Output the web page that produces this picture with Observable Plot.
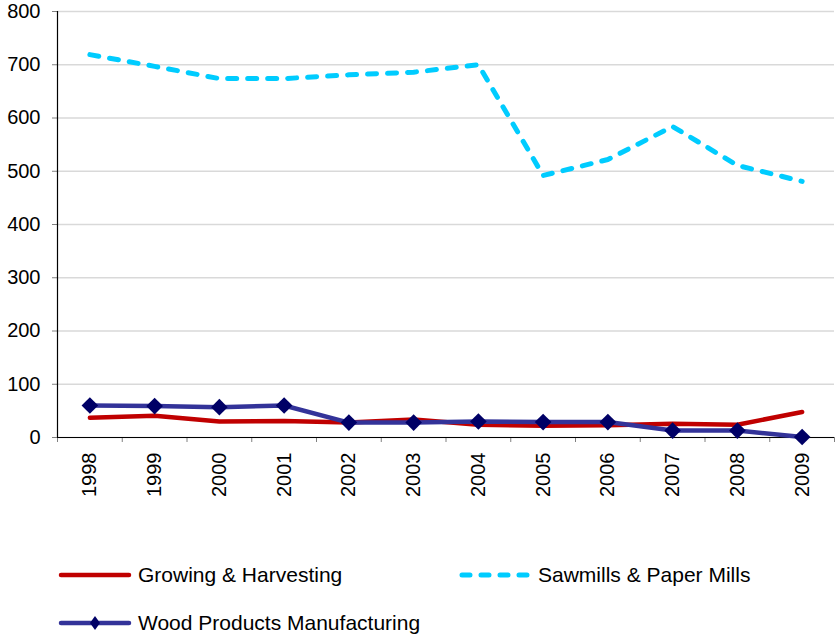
<!DOCTYPE html>
<html>
<head>
<meta charset="utf-8">
<script src="https://cdn.jsdelivr.net/npm/d3@7"></script>
<script src="https://cdn.jsdelivr.net/npm/@observablehq/plot@0.6"></script>
<style>
  html, body { margin: 0; padding: 0; background: #fff; }
  body { width: 835px; height: 635px; position: relative; overflow: hidden; font-family: "Liberation Sans", Arial, sans-serif; }
  #chart { position: absolute; left: 0; top: 0; }
  .leg { position: absolute; display: flex; align-items: center; font-size: 21px; color: #000; white-space: nowrap; }
  .leg svg { margin-right: 6px; }
</style>
</head>
<body>
<div id="chart"></div>
<div class="leg" style="left:58px; top:561px;">
  <svg width="74" height="28"><line x1="3" x2="71" y1="14" y2="14" stroke="#C00000" stroke-width="4.5" stroke-linecap="round"/></svg>
  <span>Growing &amp; Harvesting</span>
</div>
<div class="leg" style="left:458px; top:561px;">
  <svg width="74" height="28"><line x1="4" x2="71" y1="14" y2="14" stroke="#00CCFF" stroke-width="5" stroke-linecap="round" stroke-dasharray="8,11"/></svg>
  <span>Sawmills &amp; Paper Mills</span>
</div>
<div class="leg" style="left:58px; top:609px;">
  <svg width="74" height="28"><line x1="3" x2="71" y1="14" y2="14" stroke="#333399" stroke-width="4.5" stroke-linecap="round"/><path d="M37,7 L42,14 L37,21 L32,14 Z" fill="#000066"/></svg>
  <span>Wood Products Manufacturing</span>
</div>
<script>
const years = [1998, 1999, 2000, 2001, 2002, 2003, 2004, 2005, 2006, 2007, 2008, 2009];
const growing = [37, 41, 30, 31, 28, 34, 24, 22, 23, 26, 24, 48];
const sawmills = [719, 697, 674, 674, 681, 686, 700, 492, 522, 584, 511, 481];
const wood = [60, 59, 57, 60, 28, 28, 30, 29, 29, 13, 13, 1];
const yTicks = [0, 100, 200, 300, 400, 500, 600, 700, 800];

const toRows = (vals) => years.map((y, i) => ({year: y, value: vals[i]}));
const boundaries = years.map(y => y - 0.5).concat([years[years.length - 1] + 0.5]);

const plot = Plot.plot({
  width: 835,
  height: 505,
  marginTop: 11,
  marginLeft: 57,
  marginRight: 1,
  marginBottom: 68,
  style: {fontFamily: "'Liberation Sans', Arial, sans-serif", fontSize: "19.5px", color: "#000", background: "#fff", overflow: "visible"},
  x: {type: "linear", domain: [years[0] - 0.5, years[years.length - 1] + 0.5]},
  y: {domain: [0, 800]},
  marks: [
    Plot.gridY(yTicks, {stroke: "#d9d9d9", strokeOpacity: 1, strokeWidth: 1.5}),
    Plot.axisY({ticks: yTicks, tickSize: 5, tickPadding: 12, label: null, stroke: "#808080", strokeOpacity: 1, fontSize: 20}),
    Plot.axisX({ticks: boundaries, tickSize: 5, tickFormat: () => "", label: null, stroke: "#808080", strokeOpacity: 1}),
    Plot.axisX({ticks: years, tickSize: 0, tickPadding: 15, tickRotate: -90, tickFormat: d => String(d), label: null, fontSize: 20}),
    Plot.ruleX([years[0] - 0.5], {stroke: "#000", strokeWidth: 1.2}),
    Plot.ruleY([0], {stroke: "#000", strokeWidth: 1.2}),
    Plot.line(toRows(sawmills), {x: "year", y: "value", stroke: "#00CCFF", strokeWidth: 5, strokeDasharray: "9,11", strokeLinecap: "round", strokeLinejoin: "round"}),
    Plot.line(toRows(growing), {x: "year", y: "value", stroke: "#C00000", strokeWidth: 4.5, strokeLinecap: "round", strokeLinejoin: "round"}),
    Plot.line(toRows(wood), {x: "year", y: "value", stroke: "#333399", strokeWidth: 4.5, strokeLinecap: "round", strokeLinejoin: "round"}),
    Plot.dot(toRows(wood), {x: "year", y: "value", symbol: "diamond2", r: 7.5, fill: "#000066", stroke: "none"})
  ]
});
document.getElementById("chart").appendChild(plot);
</script>
</body>
</html>
